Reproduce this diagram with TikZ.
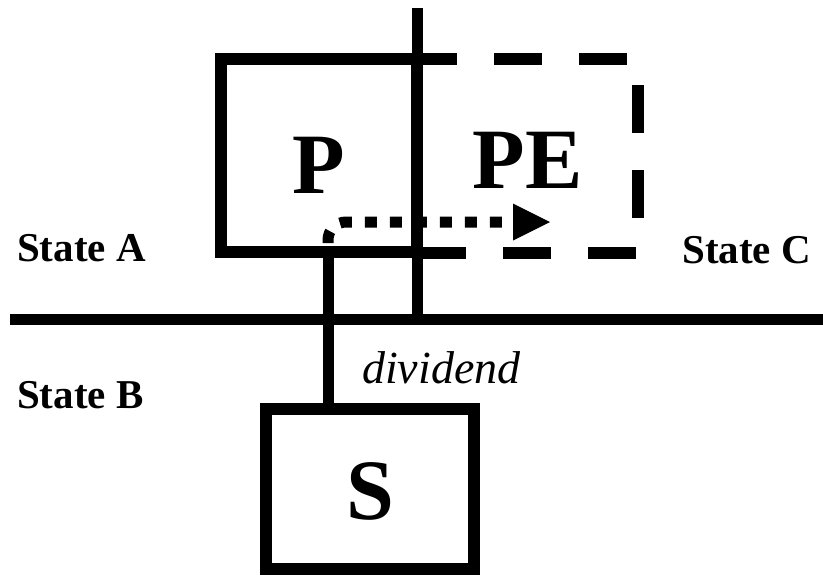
\documentclass[tikz,border=0pt]{standalone}
\usepackage{fontspec}
\setmainfont{Liberation Serif}
\usetikzlibrary{arrows.meta}

\tikzset{
  entity/.style={draw, rectangle, line width=12pt, inner sep=0pt},
  border/.style={line width=11pt},
  wire/.style={line width=11pt},
  shadowbox/.style={line width=12pt, dash pattern=on 48pt off 37pt},
  flow/.style={line width=11pt, dash pattern=on 12pt off 13pt, rounded corners=18pt,
    -{Triangle[length=37pt,width=37pt,line width=0pt]}},
  boxname/.style={font=\bfseries\fontsize{86}{90}\selectfont, inner sep=0pt, anchor=base},
  statename/.style={font=\bfseries\fontsize{41}{46}\selectfont, inner sep=0pt, anchor=base west},
}

\begin{document}
\begin{tikzpicture}[x=1pt, y=-1pt]
    \useasboundingbox (0, 0) rectangle (823, 576);

    % borders between the states
    \draw[border] (10, 319.5) -- (823, 319.5);
    \draw[border] (417.5, 8) -- (417.5, 325);

    \node[entity, minimum width=196.5pt, minimum height=193.5pt] (p) at (318.75, 155.25) {};
    \node[entity, minimum width=208.5pt, minimum height=160pt] (s) at (369.75, 489) {};
    \draw[shadowbox] (409, 59) -- (638, 59) -- (638, 253) -- (417.5, 253);

    \node[boxname] (plbl) at (318.5, 193) {P};
    \node[boxname] (pelbl) at (527.5, 188) {PE};
    \node[boxname] (slbl) at (370, 519) {S};

    \node[statename] (sa) at (17, 261) {State A};
    \node[statename] (sb) at (17, 408) {State B};
    \node[statename] (sc) at (682, 263) {State C};
    \node[font=\itshape\fontsize{46}{50}\selectfont, inner sep=0pt, anchor=base west] (div) at (362, 383) {dividend};

    \coordinate (split) at (328, 243);
    \coordinate (aim) at (550, 222);
    \draw[wire] (s.north -| split) -- (p.south -| split);
    \draw[flow] (split) |- (aim);
\end{tikzpicture}
\end{document}
